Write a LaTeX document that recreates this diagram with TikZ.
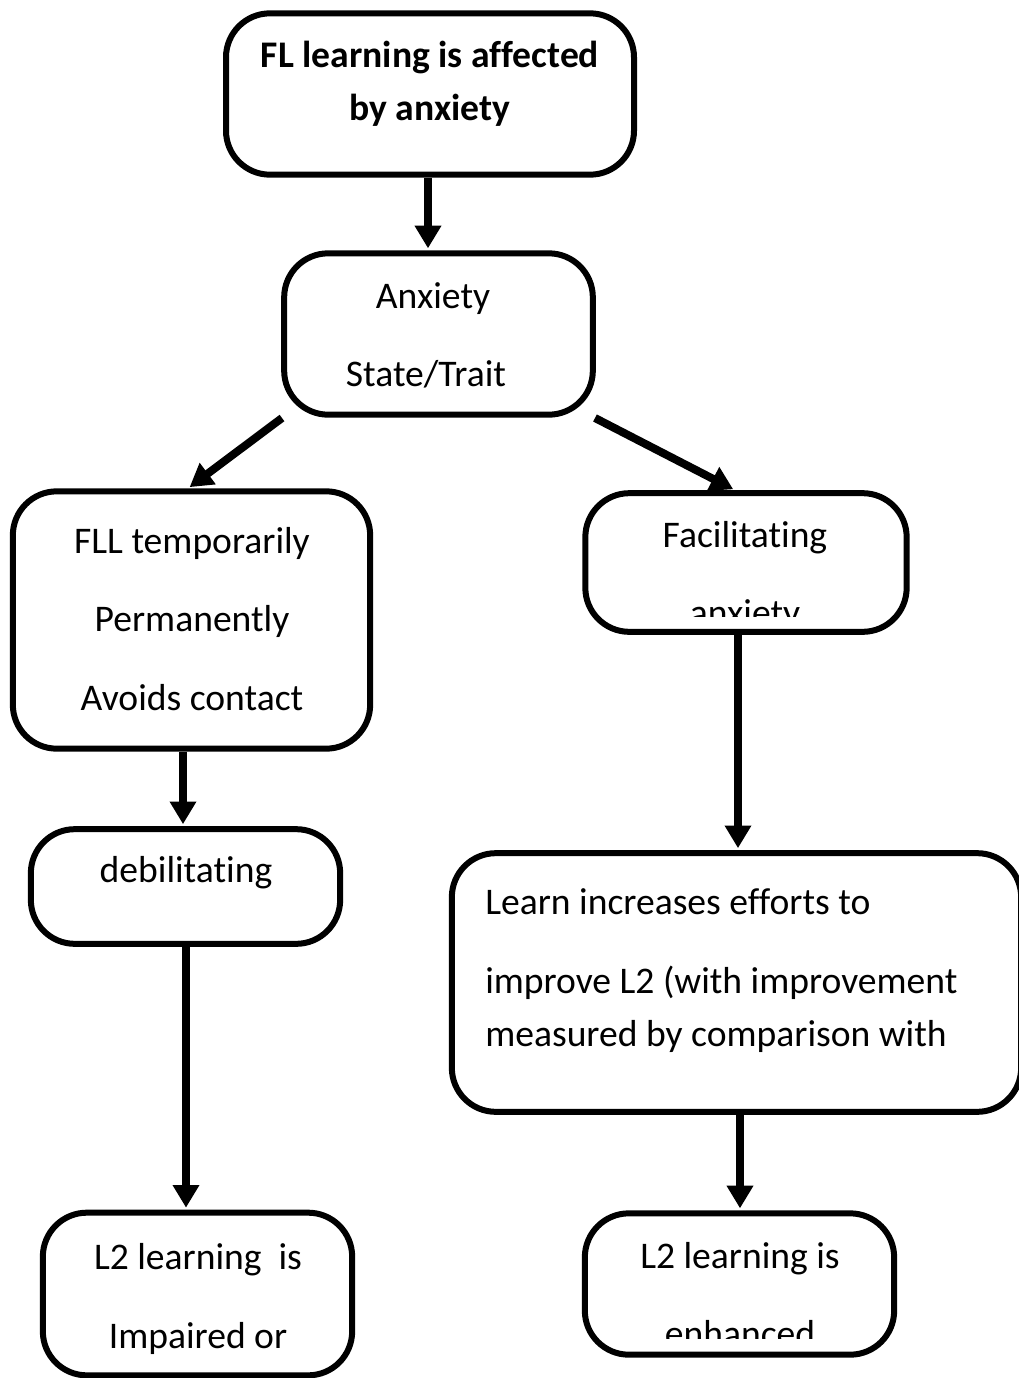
\documentclass[tikz,border=0pt]{standalone}
\usepackage{fontspec}
\setmainfont[Ligatures=NoCommon]{Carlito}
\usetikzlibrary{arrows.meta}
\begin{document}
\begin{tikzpicture}[x=0.75pt,y=-0.75pt,
  box/.style={draw=black,line width=4.5pt,rounded corners=33pt,fill=white,inner sep=0pt},
  txt/.style={anchor=base,inner sep=0pt,font=\fontsize{28.2pt}{33pt}\selectfont},
  btxt/.style={txt,font=\fontsize{28.2pt}{33pt}\selectfont\bfseries},
  arr/.style={line width=6pt,shorten >=1.5pt,-{Triangle[width=19pt,length=17pt]}}]
\useasboundingbox (0,0) rectangle (1019,1378);
% boxes
\node[box,minimum width=306pt,minimum height=121pt] (b1) at (430,94) {};
\node[box,minimum width=231.5pt,minimum height=121pt] (b2) at (438.5,334) {};
\node[box,minimum width=268pt,minimum height=193pt] (b3) at (191.5,620) {};
\node[box,minimum width=241pt,minimum height=104pt] (b4) at (746,562.5) {};
\node[box,minimum width=232pt,minimum height=86pt] (b5) at (185.5,886.5) {};
\node[box,minimum width=427pt,minimum height=194pt] (b6) at (736.5,982.5) {};
\node[box,minimum width=232pt,minimum height=122pt] (b7) at (197.5,1294) {};
\node[box,minimum width=232pt,minimum height=106pt] (b8) at (739.5,1284) {};
% texts
\node[btxt] (t1a) at (430,67) {FL learning is affected};
\node[btxt] (t1b) at (430,120) {by anxiety};
\node[txt] (t2a) at (433,308) {Anxiety};
\node[txt] (t2b) at (426,386) {State/Trait};
\node[txt] (t3a) at (192,553) {FLL temporarily};
\node[txt] (t3b) at (192,631) {Permanently};
\node[txt] (t3c) at (192,710) {Avoids contact};
\node[txt] (t4a) at (745,547) {Facilitating};
\begin{scope}
\clip (600,560) rectangle (900,616);
\node[txt] (t4b) at (745,625) {anxiety};
\end{scope}
\node[txt] (t5) at (186,882) {debilitating};
\node[txt,anchor=base west] (t6a) at (485,914) {Learn increases efforts to};
\node[txt,anchor=base west] (t6b) at (485,993) {improve L2 (with improvement};
\node[txt,anchor=base west] (t6c) at (485,1046) {measured by comparison with};
\node[txt] (t7a) at (198,1269) {L2 learning~ is};
\node[txt] (t7b) at (198,1348) {Impaired or};
\node[txt] (t8a) at (740,1268) {L2 learning is};
\begin{scope}
\clip (600,1280) rectangle (880,1338);
\node[txt] (t8b) at (740,1346) {enhanced};
\end{scope}
% arrows
\coordinate (s2l) at (282,418);
\coordinate (s2r) at (595,418);
\draw[arr] (b1.south -| 428,0) -- (b2.north -| 428,0);
\draw[arr] (s2l) -- (b3.north -| 188,0);
\draw[arr] (s2r) -- (b4.north -| 735,0);
\draw[arr] (b3.south -| 183,0) -- (b5.north -| 183,0);
\draw[arr] (b4.south -| 738,0) -- (b6.north -| 738,0);
\draw[arr] (b5.south -| 186,0) -- (b7.north -| 186,0);
\draw[arr] (b6.south -| 740,0) -- (b8.north -| 740,0);
\end{tikzpicture}
\end{document}
